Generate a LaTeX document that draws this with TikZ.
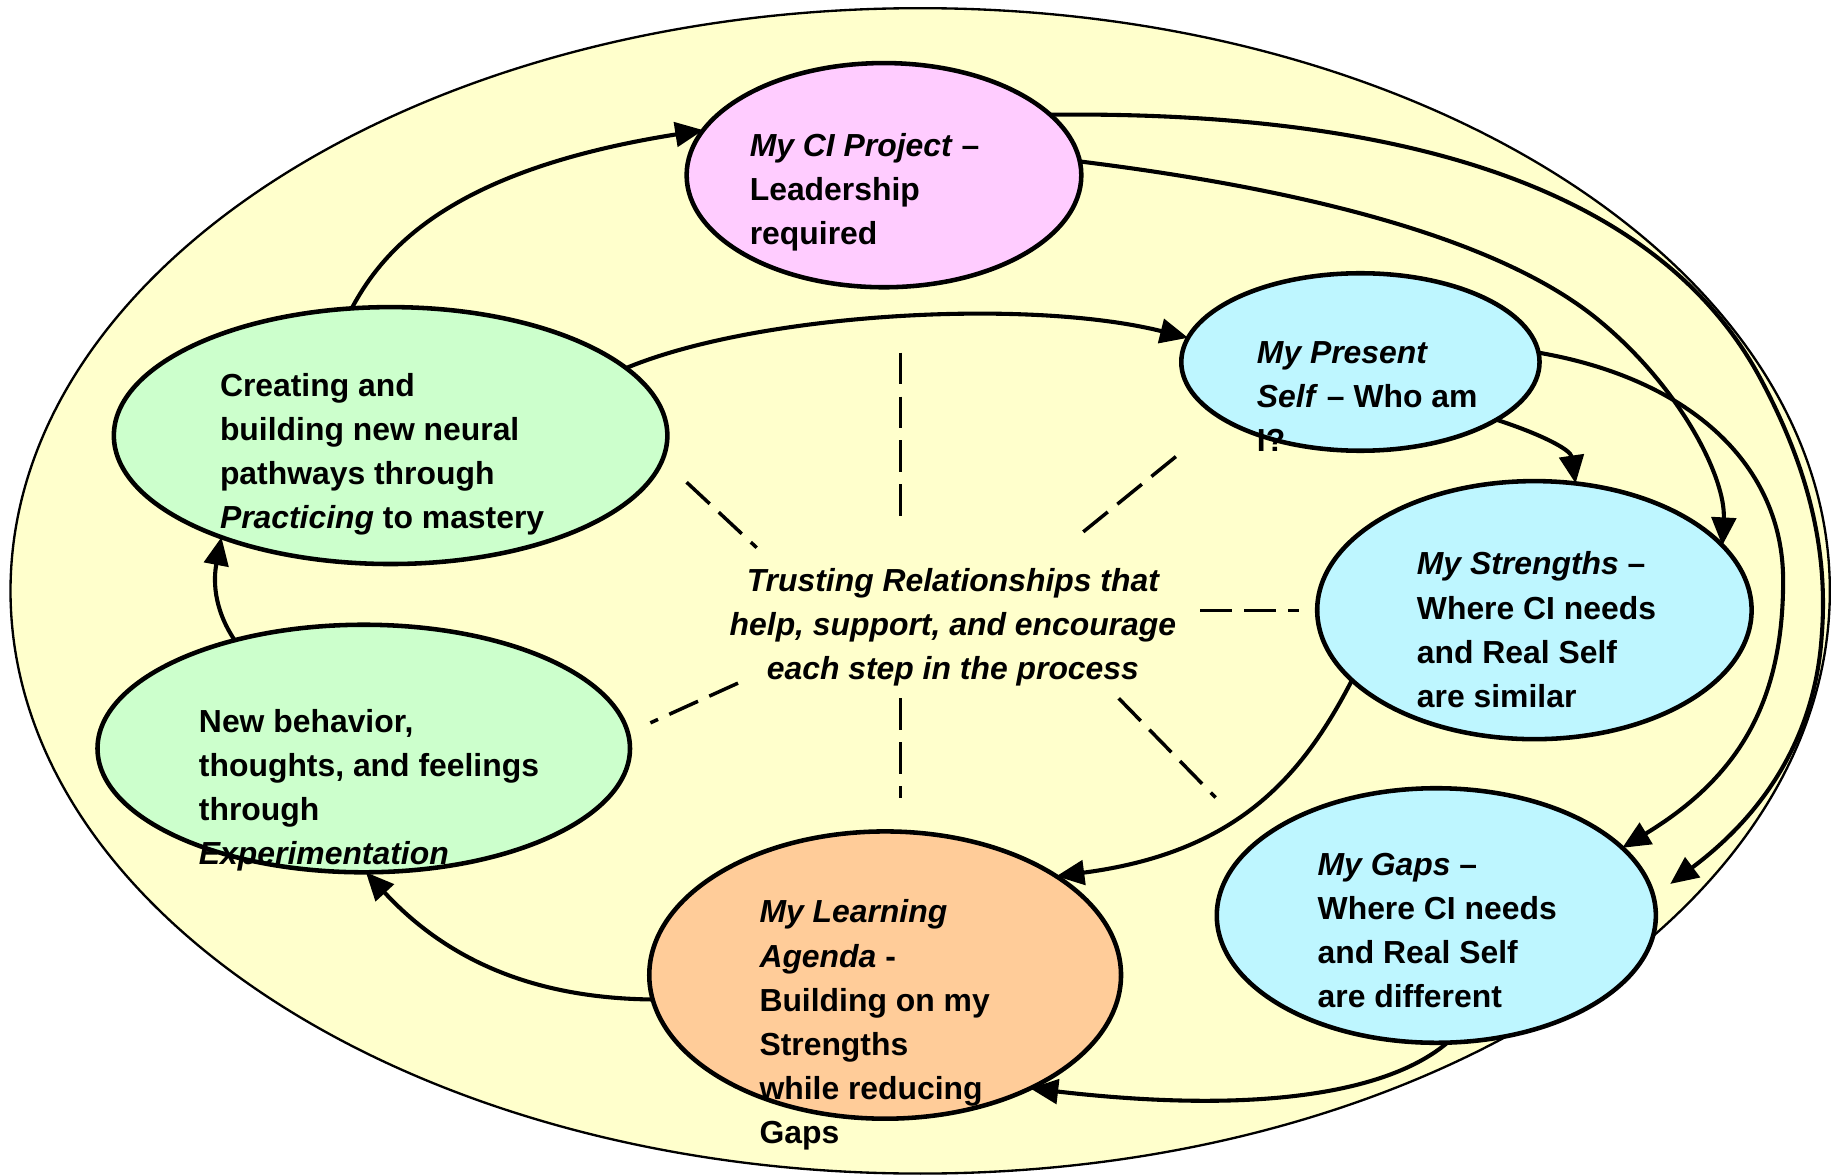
\documentclass[tikz,border=0pt]{standalone}
\usepackage{fontspec}
\setmainfont{Liberation Sans}
\usetikzlibrary{shapes.geometric,arrows.meta}

\definecolor{paleyellow}{RGB}{255,255,204}
\definecolor{projpink}{RGB}{255,204,255}
\definecolor{selfblue}{RGB}{190,246,255}
\definecolor{pathgreen}{RGB}{204,255,204}
\definecolor{agendaorange}{RGB}{255,204,153}

% invisible strut that fixes the height of the first text line
\newcommand\firstline{\rule{0pt}{13pt}}

\begin{document}
\begin{tikzpicture}[x=0.5pt,y=-0.5pt,
  bubble/.style={ellipse,draw=black,line width=1.95pt,inner sep=0pt,outer sep=0pt},
  blurb/.style={anchor=north west,inner sep=0pt,align=left,
    font=\fontsize{13.65pt}{18.85pt}\selectfont\bfseries},
  flow/.style={line width=1.75pt,-{Triangle[length=12pt,width=10.5pt]}},
  spoke/.style={line width=1.5pt,dash pattern=on 13.5pt off 5.3pt}
]
\useasboundingbox (0,0) rectangle (1568,1006);

% surrounding field
\node[ellipse,draw=black,line width=1pt,fill=paleyellow,inner sep=0pt,
      minimum width=779pt,minimum height=499pt] (field) at (788,506) {};

% stages of the cycle
\node[bubble,fill=projpink,minimum width=169pt,minimum height=96pt] (project) at (757,150) {};
\node[bubble,fill=selfblue,minimum width=153.4pt,minimum height=76pt] (present) at (1165,310) {};
\node[bubble,fill=selfblue,minimum width=186pt,minimum height=110.5pt] (strengths) at (1314,522.5) {};
\node[bubble,fill=selfblue,minimum width=188pt,minimum height=109pt] (gaps) at (1230,784) {};
\node[bubble,fill=agendaorange,minimum width=202pt,minimum height=123pt] (agenda) at (758,835) {};
\node[bubble,fill=pathgreen,minimum width=228pt,minimum height=106pt] (experiment) at (311.5,641) {};
\node[bubble,fill=pathgreen,minimum width=237pt,minimum height=110pt] (practice) at (334.5,373) {};

% dashed spokes around the central statement
\draw[spoke] (771,302) -- (771,443);
\draw[spoke] (771,598) -- (771,683);
\draw[spoke] (588,413) -- (648,469);
\draw[spoke] (1007,391) -- (927,456);
\draw[spoke] (1028,523) -- (1112,523);
\draw[spoke] (958,598) -- (1041,683);
\draw[spoke] (632,585) -- (557,619);

% connectors
\draw[flow] (practice.107.3) .. controls (330,210) and (390,145) .. (project.166);
\draw[flow] (practice.16) .. controls (650,268) and (880,255) .. (present.172);
\draw[flow] (experiment.140) .. controls (182,520) and (183,495) .. (practice.211);
\draw[flow] (agenda.186) .. controls (470,855) and (390,830) .. (experiment.271);
\draw[flow] (strengths.201) .. controls (1115,665) and (1060,730) .. (agenda.30);
\draw[flow] (gaps.275) .. controls (1190,935) and (1080,955) .. (agenda.322);
\draw[flow] (present.337) .. controls (1320,372) and (1345,385) .. (strengths.72);
\draw[flow] (present.3) .. controls (1450,325) and (1527,400) .. (1527,497)
  .. controls (1527,600) and (1490,665) .. (gaps.20);
\draw[flow] (project.4) .. controls (1100,160) and (1280,200) .. (1370,275)
  .. controls (1440,333) and (1478,410) .. (strengths.19);
\draw[flow,shorten >=9pt] (project.20) .. controls (1200,95) and (1420,160) .. (1508,325)
  .. controls (1548,400) and (1566,470) .. (1560,545)
  .. controls (1555,620) and (1520,690) .. (gaps.5);

% texts
\node[blurb] (project-text) at (641.7,108)
  {\firstline\textit{My CI Project} –\\Leadership\\required};
\node[blurb] (present-text) at (1076,285)
  {\firstline\textit{My Present}\\\textit{Self} – Who am\\I?};
\node[blurb] (strengths-text) at (1213,466)
  {\firstline\textit{My Strengths} –\\Where CI needs\\and Real Self\\are similar};
\node[blurb] (gaps-text) at (1128,723)
  {\firstline\textit{My Gaps} –\\Where CI needs\\and Real Self\\are different};
\node[blurb] (agenda-text) at (650,764)
  {\firstline\textit{My Learning}\\\textit{Agenda} -\\Building on my\\Strengths\\while reducing\\Gaps};
\node[blurb] (experiment-text) at (170,601)
  {\firstline New behavior,\\thoughts, and feelings\\through\\\textit{Experimentation}};
\node[blurb] (practice-text) at (188,313)
  {\firstline Creating and\\building new neural\\pathways through\\\textit{Practicing} to mastery};
\node[blurb,anchor=north,align=center,font=\fontsize{13.65pt}{18.85pt}\selectfont\bfseries\itshape]
  (trust) at (816,480)
  {\firstline Trusting Relationships that\\help, support, and encourage\\each step in the process};
\end{tikzpicture}
\end{document}
